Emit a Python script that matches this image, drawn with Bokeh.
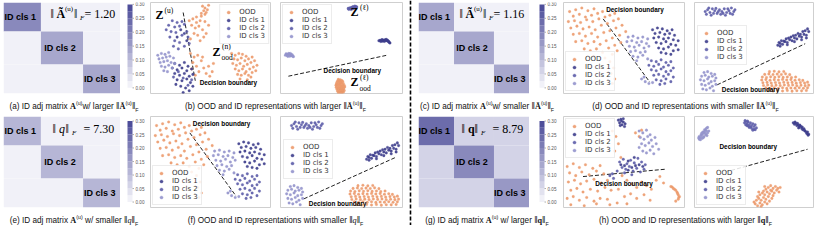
from bokeh.plotting import figure
from bokeh.models import ColumnDataSource, Label, Span, Legend, LegendItem, Div, Range1d
from bokeh.layouts import row, column
from bokeh.transform import linear_cmap
from bokeh.core.properties import value
from bokeh.embed import file_html
from bokeh.resources import INLINE

# ------------------------------------------------------------------ data
class_sizes = [32, 36, 32]
class_names = ["ID cls 1", "ID cls 2", "ID cls 3"]

heat_a_diag = [0.18, 0.13, 0.13]
heat_a_off = 0.015
heat_c_diag = [0.14, 0.13, 0.13]
heat_c_off = 0.015
heat_e_diag = [0.12, 0.115, 0.115]
heat_e_off = 0.012
heat_g_diag = [0.235, 0.19, 0.16]
heat_g_off = 0.05

norm_values = ["1.20", "1.16", "7.30", "8.79"]

cbar_levels = [0.0, 0.025, 0.05, 0.075, 0.10, 0.125, 0.15, 0.175, 0.20, 0.225, 0.25, 0.275, 0.30]
cbar_ticks = [0.00, 0.05, 0.10, 0.15, 0.20, 0.25, 0.30]
cbar_tick_labels = ["0.00", "0.05", "0.10", "0.15", "0.20", "0.25", "0.30"]
palette = ["#f1f1f8", "#e2e2ef", "#d3d3e7", "#c4c4de", "#b6b6d6", "#a7a7cd",
           "#9898c5", "#8989bc", "#7b7bb4", "#6c6cab", "#5d5da3", "#4e4e9a"]

legend_labels = ["OOD", "ID cls 1", "ID cls 2", "ID cls 3"]
series_colors = ["#ec9a6c", "#3d3d8c", "#5c5ca8", "#9393cc"]

# (b) left: Z^(u) with larger norm
bL_ood = [(43, 96), (45, 94), (44, 91), (46, 89), (47, 92), (48, 97), (42, 88), (45, 87),
          (32, 80), (35, 82), (38, 78), (41, 80), (34, 75), (37, 72), (40, 74), (43, 70), (36, 66),
          (39, 64), (44, 62), (33, 60), (41, 58), (46, 66), (48, 75), (45, 79), (38, 84), (42, 85),
          (33, 44), (36, 40), (39, 42), (35, 34), (38, 30), (42, 36), (44, 28), (40, 24), (37, 20),
          (46, 22), (43, 40), (34, 27), (48, 30), (51, 24), (49, 19), (52, 33),
          (67, 44), (70, 42), (73, 44), (76, 43), (79, 41), (69, 38), (72, 37), (75, 39), (78, 36),
          (81, 38), (84, 40), (68, 33), (71, 31), (74, 33), (77, 30), (80, 32), (83, 34), (86, 36),
          (70, 27), (73, 25), (76, 27), (79, 24), (82, 27), (85, 29), (88, 31), (72, 21), (75, 20),
          (78, 22), (81, 20), (84, 23), (87, 25), (74, 16), (80, 15), (83, 18)]
bL_cls1 = [(20, 33), (24, 31), (28, 34), (31, 30), (18, 28), (22, 26), (26, 28), (30, 25), (34, 27),
           (20, 22), (24, 20), (28, 22), (32, 19), (35, 21), (22, 15), (26, 14), (30, 16), (33, 12),
           (25, 8), (29, 6), (32, 3), (27, 1), (21, 10), (35, 8), (25, 70), (28, 66), (22, 62), (30, 58)]
bL_cls2 = [(18, 80), (22, 78), (26, 79), (15, 75), (20, 73), (24, 74), (28, 76), (13, 70), (17, 68),
           (21, 67), (26, 64), (30, 68), (16, 62), (20, 58), (24, 56), (28, 52), (32, 55), (19, 52),
           (23, 49), (31, 62), (19, 18), (23, 24), (27, 17), (31, 9), (34, 15)]
bL_cls3 = [(6, 42), (9, 44), (12, 43), (15, 45), (7, 38), (10, 39), (13, 40), (16, 41), (19, 39),
           (8, 34), (11, 35), (14, 36), (17, 34), (20, 33), (9, 30), (12, 29), (15, 31), (18, 28),
           (11, 25), (14, 24)]
bL_boundary_x = [27, 37]
bL_boundary_y = [89, 14]

# (b) right: Z^(l)
bR_ood = [(47.0, 15.5), (48.6, 15.0), (49.8, 14.2), (46.2, 13.4), (47.6, 13.0), (49.1, 12.8),
          (50.6, 13.2), (45.6, 11.4), (46.9, 11.0), (48.3, 10.6), (49.7, 11.2), (51.1, 10.8),
          (45.1, 9.2), (46.4, 8.8), (47.8, 9.0), (49.2, 8.6), (50.5, 9.1), (51.9, 8.7), (45.3, 7.0),
          (46.7, 6.6), (48.0, 7.1), (49.5, 6.8), (50.9, 6.5), (52.2, 7.2), (45.8, 4.9), (47.2, 4.6),
          (48.6, 5.0), (50.0, 4.7), (51.4, 5.1), (46.3, 2.8), (47.7, 2.5), (49.1, 3.0), (50.5, 2.6),
          (51.8, 3.2), (47.0, 0.9), (48.4, 1.2), (49.8, 0.8), (51.0, 1.4), (47.4, 14.2), (48.9, 11.9),
          (46.0, 10.1), (50.2, 7.9), (47.3, 5.8), (49.6, 3.9)]
bR_cls1 = [(80, 58), (81, 58.5), (82, 58), (83, 57.5), (84, 58), (85, 59), (86, 59.5), (87, 58.5),
           (88, 57), (88.5, 56), (81.5, 57.2), (83.5, 58.8), (85.5, 58.2), (82.5, 59.2), (84.5, 57.3),
           (86.5, 58), (87.5, 57.5), (89, 55.5)]
bR_cls2 = [(55.5, 92.5), (56.5, 93), (57.5, 93.5), (58.5, 94), (59.5, 94.5), (60.5, 95), (61.5, 95.5),
           (56, 93.8), (57, 94.2), (58, 94.8), (59, 93.2), (60, 93.8), (61, 94.3), (62, 95),
           (57.5, 92.3), (59, 95.5), (60.5, 96), (55, 93.5)]
bR_cls3 = [(4, 42), (5, 43), (6, 42.5), (7, 43.5), (8, 42), (9, 41.5), (10, 41), (5.5, 41.5),
           (6.5, 44), (7.5, 41), (8.5, 43), (9.5, 42.5), (4.5, 43.5), (10.5, 40.5), (6, 40.8), (8, 44)]
bR_boundary_x = [6.4, 86.4]
bR_boundary_y = [19, 42]

# (d) and (f) left (identical panels)
dL_ood = [(5, 90), (10, 92), (15, 94), (20, 91), (25, 93), (8, 85), (13, 87), (18, 84), (23, 86),
          (28, 88), (32, 90), (4, 79), (9, 80), (14, 78), (19, 81), (24, 79), (29, 82), (34, 84),
          (38, 86), (42, 88), (6, 72), (11, 74), (16, 71), (21, 73), (26, 70), (31, 75), (36, 77),
          (41, 80), (45, 82), (8, 65), (13, 66), (18, 63), (23, 66), (28, 62), (33, 67), (38, 69),
          (43, 72), (48, 75), (10, 57), (15, 58), (20, 55), (25, 57), (30, 54), (35, 58), (40, 61),
          (46, 64), (51, 68), (17, 49), (22, 47), (27, 49), (32, 45), (37, 50), (42, 53), (47, 56),
          (25, 41), (34, 39), (40, 43), (44, 47), (38, 35), (41, 28), (39, 22), (42, 16), (40, 11)]
dL_cls1 = [(73, 70), (77, 72), (81, 71), (85, 69), (89, 70), (75, 66), (79, 67), (83, 65), (87, 66),
           (91, 64), (74, 61), (78, 62), (82, 60), (86, 61), (90, 59), (94, 58), (76, 56), (80, 55),
           (84, 57), (88, 54), (92, 53), (78, 50), (82, 49), (86, 51), (90, 47), (94, 48), (84, 44),
           (88, 43), (80, 45)]
dL_cls2 = [(72, 36), (76, 35), (80, 37), (84, 34), (88, 35), (70, 31), (74, 30), (78, 32), (82, 29),
           (86, 31), (90, 28), (72, 26), (76, 25), (80, 27), (84, 24), (88, 25), (74, 20), (78, 21),
           (82, 19), (86, 21), (90, 18), (76, 15), (80, 14), (84, 16), (88, 13), (79, 10), (83, 11)]
dL_cls3 = [(53, 62), (57, 63), (61, 61), (65, 62), (69, 60), (52, 57), (56, 58), (60, 56), (64, 57),
           (68, 55), (54, 52), (58, 51), (62, 53), (66, 50), (70, 52), (55, 46), (59, 47), (63, 45),
           (67, 46), (57, 41), (61, 40), (65, 42), (69, 38), (60, 36), (64, 16), (67, 13), (70, 11),
           (73, 12), (66, 18)]
dL_boundary_x = [32.5, 70.7]
dL_boundary_y = [82, 12.6]

# (d) and (f) right
dR_ood = [(63, 24), (67, 24.5), (71, 23.8), (75, 24.2), (59, 21), (62.5, 21.5), (66, 20.8),
          (69.5, 21.3), (73, 20.9), (76.5, 21.6), (80, 20.7), (57, 18), (60.5, 17.6), (64, 18.3),
          (67.5, 17.8), (71, 18.4), (74.5, 17.7), (78, 18.2), (81.5, 17.5), (85, 18.1), (56.5, 14.8),
          (60, 15.3), (63.5, 14.6), (67, 15.2), (70.5, 14.7), (74, 15.4), (77.5, 14.9), (81, 15.3),
          (84.5, 14.6), (88, 15.1), (91, 14.4), (57.5, 11.8), (61, 12.2), (64.5, 11.5), (68, 12.1),
          (71.5, 11.6), (75, 12.3), (78.5, 11.7), (82, 12.2), (85.5, 11.4), (89, 12), (92.5, 11.6),
          (95, 12.5), (58, 8.8), (61.5, 9.3), (65, 8.6), (68.5, 9.2), (72, 8.7), (75.5, 9.4),
          (79, 8.9), (82.5, 9.3), (86, 8.5), (89.5, 9.1), (93, 8.6), (96, 9.2), (60, 6.2), (63.5, 5.7),
          (67, 6.3), (70.5, 5.8), (74, 6.4), (77.5, 5.6), (81, 6.1), (84.5, 5.9), (88, 6.4),
          (91.5, 5.8), (95, 6.2), (62, 3.2), (66, 2.7), (70, 3.4), (74, 2.8), (78, 3.3), (82, 2.6),
          (86, 3.1), (90, 2.9), (94, 3.3)]
dR_cls1 = [(70, 53), (72, 55), (74, 54), (76, 57), (78, 56), (80, 59), (82, 58), (84, 61), (86, 60),
           (88, 63), (90, 62), (92, 65), (94, 64), (96, 68), (71, 56), (73, 58), (75, 57.5), (77, 60),
           (79, 61), (81, 62), (83, 63.5), (85, 64), (87, 66), (89, 65), (91, 68), (93, 69), (95, 71),
           (72, 52), (78, 53.5), (84, 57), (90, 59), (94, 61)]
dR_cls2 = [(9, 90), (11, 92), (13, 89), (15, 93), (17, 91), (19, 88), (21, 92), (23, 90), (25, 93),
           (27, 89), (29, 91), (31, 94), (33, 90), (10, 87), (14, 86), (18, 93.5), (22, 87), (26, 86),
           (30, 88), (34, 92), (12, 94), (16, 88), (20, 90), (24, 88), (28, 93), (32, 87)]
dR_cls3 = [(8, 23), (11, 24), (14, 22), (17, 21), (6, 19), (9, 20), (12, 18), (15, 19), (18, 17),
           (5, 15), (8, 14), (11, 16), (14, 13), (17, 14), (6, 10), (9, 9), (12, 11), (15, 8), (18, 10),
           (7, 5), (10, 4), (13, 6), (16, 3)]
dR_boundary_x = [19, 93]
dR_boundary_y = [9.5, 54.7]

# (h) left: larger ||q||
hL_ood = [(3, 45), (8, 48), (13, 44), (18, 47), (24, 43), (30, 46), (5, 38), (10, 35), (15, 39),
          (21, 36), (27, 40), (33, 37), (4, 28), (9, 30), (14, 26), (19, 29), (25, 31), (31, 27),
          (36, 30), (6, 19), (11, 21), (16, 17), (22, 20), (28, 18), (34, 22), (39, 19), (3, 10),
          (8, 12), (13, 8), (19, 11), (25, 7), (30, 10), (36, 9), (6, 3), (17, 2), (27, 4), (38, 3),
          (40, 84), (43, 78), (45, 70), (42, 62), (47, 55), (59, 82), (62, 78), (64, 85),
          (48, 35), (52, 30), (56, 26), (60, 22), (64, 28), (68, 24), (72, 20), (76, 30), (79, 34),
          (82, 27), (55, 15), (60, 10), (66, 14), (71, 8), (45, 20), (50, 12), (44, 5), (52, 4),
          (88, 23), (90, 21), (92, 19), (93, 17), (94, 14), (95, 12), (94, 9), (92, 7), (89, 22.5),
          (91, 20), (93.5, 15.5), (94.5, 11)]
hL_cls1 = [(45, 96), (46, 93), (47, 97), (48, 91), (49, 94), (50, 89), (47.5, 95), (46.5, 90),
           (49, 97.5), (50.5, 92), (47, 47), (50, 46), (53, 51), (56, 44), (59, 46), (62, 47),
           (65, 45), (58, 55), (53, 41)]
hL_cls2 = [(46, 50), (49, 53), (52, 48), (55, 52), (58, 49), (61, 54), (64, 50), (67, 47), (48, 44),
           (51, 42), (54, 45), (57, 40), (60, 43), (63, 39), (66, 42), (50, 38), (56, 36), (44, 40),
           (38, 35), (40, 37), (41, 32)]
hL_cls3 = [(62, 84), (65, 82), (68, 85), (71, 80), (63, 77), (66, 75), (69, 78), (72, 74), (75, 77),
           (64, 70), (67, 68), (70, 71), (73, 67), (76, 70), (78, 64), (65, 62), (68, 60), (71, 63),
           (74, 59), (62, 66)]
hL_boundary_x = [16, 83]
hL_boundary_y = [34, 42]

# (h) right
hR_ood = [(51, 4), (53, 2), (55, 5), (57, 3), (59, 6), (52, 8), (54, 10), (56, 8), (58, 11), (60, 9),
          (62, 12), (55, 14), (57, 16), (59, 14), (61, 17), (63, 15), (65, 18), (60, 20), (62, 22),
          (64, 19), (66, 21), (68, 23), (67, 16), (69, 19), (70, 21), (72, 22), (61, 4), (63, 7),
          (53, 12), (50, 6), (56, 1), (58, 18), (66, 13), (71, 17), (64, 24), (65, 10), (54, 17),
          (59, 23)]
hR_cls1 = [(83, 93), (84, 91.5), (85, 92.5), (86, 90), (87, 91), (88, 88.5), (89, 89.5), (90, 87),
           (91, 85.5), (92, 86.5), (93, 84), (94, 82.5), (95, 83), (96, 80.5), (84.5, 94), (86.5, 92.5),
           (88.5, 90.5), (90.5, 88.5), (92.5, 84.5), (94.5, 81), (95.5, 79.5), (87.5, 87.5)]
hR_cls2 = [(42, 93), (43, 94.5), (44, 92), (45, 94), (46, 91), (47, 93), (48, 90), (49, 92), (50, 89),
           (51, 91), (52, 87.5), (44, 90), (46, 88), (48, 87), (50, 86), (43, 91), (45, 89.5),
           (47, 88.5), (49, 85), (51, 85.5), (42.5, 95.5), (44.5, 95)]
hR_cls3 = [(4, 75), (5, 77), (6, 79), (7, 81), (8, 83), (9, 85), (10, 87), (11, 88), (5, 74.5),
           (6.5, 76), (8, 78), (9.5, 80), (11, 82), (12, 84), (4, 78), (5.5, 80), (7, 83), (8.5, 85.5),
           (10, 84), (7.5, 77), (9, 81.5), (6, 81.5), (10.5, 79), (3.5, 76.5)]
hR_boundary_x = [26, 95]
hR_boundary_y = [39, 64]

# ------------------------------------------------------------------ helpers
SANS = "Liberation Sans"
SERIF = "Liberation Serif"


def blank_fig(width, height, left, right, top, bottom, xr, yr):
    p = figure(width=width, height=height, x_range=xr, y_range=yr,
               x_axis_type=None, y_axis_type=None, toolbar_location=None,
               output_backend="svg", title=None,
               min_border_left=left, min_border_right=right,
               min_border_top=top, min_border_bottom=bottom)
    p.outline_line_color = None
    p.background_fill_color = "white"
    p.border_fill_color = "white"
    return p


def plabel(p, fw, fh, xpx, ytop, text, size, style="normal", font=SERIF, align="left", color="black"):
    p.add_layout(Label(x=xpx / fw * 100, y=100 - ytop / fh * 100, text=text,
                       text_font=font, text_font_size=f"{size}px", text_font_style=style,
                       text_align=align, text_baseline="middle", text_color=color))


def make_heat(diag, off, mbl, fw, top, fh, bottom, kind, val):
    p = blank_fig(mbl + fw, top + fh + bottom, mbl, 0, top, bottom, Range1d(0, 100), Range1d(0, 100))
    edges = [0]
    for s in class_sizes:
        edges.append(edges[-1] + s)
    sc = 100 / edges[-1]
    L, R, T, B, V = [], [], [], [], []
    for i in range(3):
        for j in range(3):
            L.append(edges[j] * sc)
            R.append(edges[j + 1] * sc)
            T.append(100 - edges[i] * sc)
            B.append(100 - edges[i + 1] * sc)
            V.append(diag[i] if i == j else off)
    src = ColumnDataSource(dict(left=L, right=R, top=T, bottom=B, v=V))
    p.quad(left="left", right="right", top="top", bottom="bottom", source=src,
           fill_color=linear_cmap("v", palette, 0, 0.30), line_color=None)
    cx = [(edges[i] + edges[i + 1]) / 2 * sc for i in range(3)]
    cy = [100 - c for c in cx]
    p.text(x=cx, y=cy, text=class_names, text_font=value(SANS), text_font_style="bold",
           text_font_size="9px", text_align="center", text_baseline="middle",
           text_color="black", x_offset=-2)
    yc = 11.5 if top < 4 else 12.4
    if kind == "A":
        plabel(p, fw, fh, fw - 70, yc, "‖", 12)
        plabel(p, fw, fh, fw - 64, yc, "Ã", 12, "bold")
        plabel(p, fw, fh, fw - 55.5, yc - 4.5, "(u)", 7)
        plabel(p, fw, fh, fw - 46.5, yc, "‖", 12)
        plabel(p, fw, fh, fw - 40.5, yc + 4, "F", 7, "italic")
        plabel(p, fw, fh, fw - 36, yc, "= " + val, 12)
    else:
        plabel(p, fw, fh, fw - 68, yc, "‖", 12)
        plabel(p, fw, fh, fw - 61.5, yc, "q", 12, "italic" if kind == "q" else "bold")
        plabel(p, fw, fh, fw - 55, yc, "‖", 12)
        plabel(p, fw, fh, fw - 48.5, yc + 4, "F", 7, "italic")
        plabel(p, fw, fh, fw - 37, yc, "= " + val, 12)
    return p


def make_cbar(bar_left, fig_h, top):
    bar_h = 89
    ppu = bar_h / 0.30
    y_top = 0.30 + top / ppu
    y_bot = -(fig_h - top - bar_h) / ppu
    p = blank_fig(28, fig_h, 0, 0, 0, 0, Range1d(0, 28), Range1d(y_bot, y_top))
    p.quad(left=bar_left, right=bar_left + 5, bottom=cbar_levels[:-1], top=cbar_levels[1:],
           fill_color=palette, line_color=None)
    p.segment(x0=bar_left + 5, x1=bar_left + 6.5, y0=cbar_ticks, y1=cbar_ticks,
              line_color="#777777", line_width=0.6)
    p.text(x=bar_left + 8, y=cbar_ticks, text=cbar_tick_labels, text_font=value(SANS),
           text_font_size="4.6px", text_baseline="middle", text_color="#555555")
    return p


def make_scatter(mbl, fw, top, fh, bottom, clusters, bx, by, btext_xy, loc, mbr=0):
    p = blank_fig(mbl + fw + mbr, top + fh + bottom, mbl, mbr, top, bottom,
                  Range1d(0, 100), Range1d(0, 100))
    p.outline_line_color = "#cfcfcf"
    p.outline_line_width = 1
    p.line(bx, by, line_color="#222222", line_width=1.0, line_dash="4 2")
    items = []
    for pts, lab, col in zip(clusters, legend_labels, series_colors):
        xs = [q[0] for q in pts]
        ys = [q[1] for q in pts]
        r = p.scatter(xs, ys, size=2.6, fill_color=col, line_color=col, line_width=0.3,
                      fill_alpha=0.9, line_alpha=0.9)
        items.append(LegendItem(label=lab, renderers=[r]))
    p.add_layout(Label(x=btext_xy[0], y=btext_xy[1], text="Decision boundary",
                       text_font=SANS, text_font_style="bold", text_font_size="6.4px",
                       text_baseline="middle", text_align="left", text_color="black"))
    lg = Legend(items=items, location=loc, margin=2, padding=3, spacing=0,
                label_height=8, glyph_height=8, glyph_width=10, label_standoff=6,
                label_text_font="DejaVu Sans", label_text_font_size="7px",
                label_text_color="#333333", border_line_color="#d9d9d9",
                border_line_width=0.8, background_fill_alpha=0.85)
    p.add_layout(lg)
    return p


def caption(html, width, lh):
    return Div(text=f'<div style="width:{width}px;text-align:center;white-space:nowrap;'
                    f'font-family:\'Liberation Sans\';font-size:8.2px;line-height:{lh}px;color:#111">'
                    f'{html}</div>', width=width, height=14, margin=0)


BOLD_A = "<span style=\"font-family:'Liberation Serif';font-weight:bold\">A</span><sup style='font-size:65%;line-height:0'>(u)</sup>"
NORM_A = ("‖<span style=\"font-family:'Liberation Serif';font-weight:bold\">Ã</span>"
          "<sup style='font-size:65%;line-height:0'>(u)</sup>‖<sub style='font-size:65%;line-height:0'>F</sub>")
NORM_Q = ("‖<i style=\"font-family:'Liberation Serif'\">q</i>‖"
          "<sub style='font-size:65%;line-height:0'>F</sub>")
NORM_QB = ("‖<b style=\"font-family:'Liberation Serif'\">q</b>‖"
           "<sub style='font-size:65%;line-height:0'>F</sub>")

# ------------------------------------------------------------------ rows
SC = 91


def z_labels_left(p, fw, sup, ood_sup):
    plabel(p, fw, SC, 5, 12.4, "Z", 12, "bold")
    plabel(p, fw, SC, 14, 7.5, sup, 7.5)
    plabel(p, fw, SC, 62, 49, "Z", 12, "bold")
    plabel(p, fw, SC, 71.5, 44, ood_sup, 7.5)
    plabel(p, fw, SC, 71, 55, "ood", 7.5)


def z_labels_right(p, fw):
    plabel(p, fw, SC, 70, 9.6, "Z", 12, "bold")
    plabel(p, fw, SC, 79.5, 4.8, "(ℓ)", 7.5)
    plabel(p, fw, SC, 70, 79.5, "Z", 12, "bold")
    plabel(p, fw, SC, 79.5, 74.5, "(ℓ)", 7.5)
    plabel(p, fw, SC, 79, 85.5, "ood", 7.5)


# top-left (a), (b)
heat_a = make_heat(heat_a_diag, heat_a_off, 3, 117, 2, 93, 2, "A", norm_values[0])
cbar_a = make_cbar(7, 97, 2)
bL = make_scatter(2, 121, 2, SC, 4, [bL_ood, bL_cls1, bL_cls2, bL_cls3], bL_boundary_x, bL_boundary_y,
                  (40.6, 12.6), "top_right")
z_labels_left(bL, 121, "(u)", "(n)")
bR = make_scatter(9, 123, 2, SC, 4, [bR_ood, bR_cls1, bR_cls2, bR_cls3], bR_boundary_x, bR_boundary_y,
                  (35, 25), "top_left")
z_labels_right(bR, 123)
top_left = column(row(heat_a, cbar_a, bL, bR),
                  row(caption("(a) ID adj matrix " + BOLD_A + "w/ larger " + NORM_A, 148, 11),
                      caption("(b) OOD and ID representations with larger " + NORM_A, 255, 11)))

# bottom-left (e), (f)
heat_e = make_heat(heat_e_diag, heat_e_off, 3, 117, 5, 93, 2, "q", norm_values[2])
cbar_e = make_cbar(7, 100, 5)
fL = make_scatter(2, 121, 5, SC, 4, [dL_ood, dL_cls1, dL_cls2, dL_cls3], dL_boundary_x, dL_boundary_y,
                  (35, 92.6), "bottom_left")
fR = make_scatter(9, 123, 5, SC, 4, [dR_ood, dR_cls1, dR_cls2, dR_cls3], dR_boundary_x, dR_boundary_y,
                  (23, 4), (3, 28))
bot_left = column(row(heat_e, cbar_e, fL, fR),
                  row(caption("(e) ID adj matrix " + BOLD_A + " w/ smaller " + NORM_Q, 148, 14),
                      caption("(f) OOD and ID representations with smaller " + NORM_Q, 255, 14)))

# top-right (c), (d)
heat_c = make_heat(heat_c_diag, heat_c_off, 1, 111, 2, 93, 2, "A", norm_values[1])
cbar_c = make_cbar(10, 97, 2)
dL = make_scatter(6, 122, 2, SC, 4, [dL_ood, dL_cls1, dL_cls2, dL_cls3], dL_boundary_x, dL_boundary_y,
                  (35, 92.6), "bottom_left")
dR = make_scatter(9, 119, 2, SC, 4, [dR_ood, dR_cls1, dR_cls2, dR_cls3], dR_boundary_x, dR_boundary_y,
                  (23, 4), (3, 28), mbr=1)
top_right = column(row(heat_c, cbar_c, dL, dR),
                   row(caption("(c) ID adj matrix " + BOLD_A + "w/ smaller " + NORM_A, 140, 11),
                       caption("(d) OOD and ID representations with smaller " + NORM_A, 257, 11)))

# bottom-right (g), (h)
heat_g = make_heat(heat_g_diag, heat_g_off, 1, 111, 5, 93, 2, "qb", norm_values[3])
cbar_g = make_cbar(10, 100, 5)
hL = make_scatter(6, 122, 5, SC, 4, [hL_ood, hL_cls1, hL_cls2, hL_cls3], hL_boundary_x, hL_boundary_y,
                  (26, 26), "top_left")
hR = make_scatter(9, 119, 5, SC, 4, [hR_ood, hR_cls1, hR_cls2, hR_cls3], hR_boundary_x, hR_boundary_y,
                  (21, 67), "bottom_left", mbr=1)
bot_right = column(row(heat_g, cbar_g, hL, hR),
                   row(caption("(g) ID adj matrix " + BOLD_A + " w/ larger " + NORM_QB, 140, 14),
                       caption("(h) OOD and ID representations with larger " + NORM_QB, 257, 14)))

# separator
sep = blank_fig(14, 225, 0, 0, 0, 0, Range1d(0, 14), Range1d(0, 1))
sep.add_layout(Span(location=7, dimension="height", line_color="black", line_width=1.6, line_dash="4 2"))

root = row(column(top_left, bot_left), sep, column(top_right, bot_right))

open("out.html", "w").write(file_html(root, INLINE))
